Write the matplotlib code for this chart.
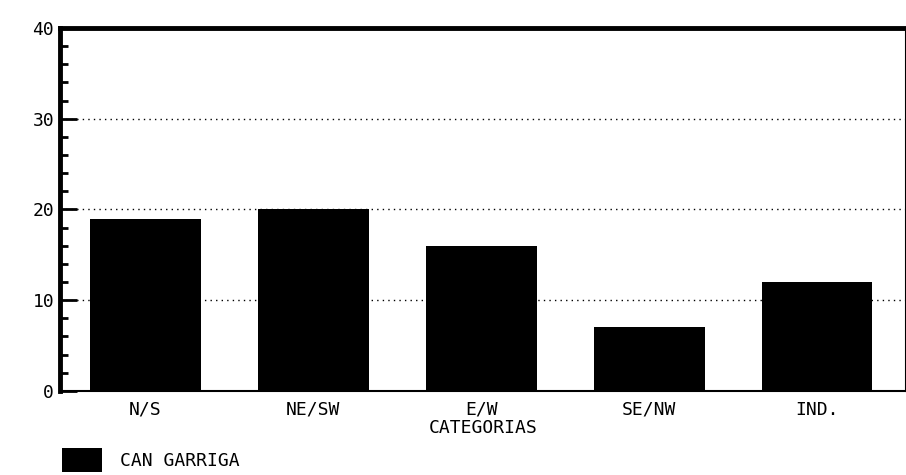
import matplotlib
matplotlib.use("Agg")
import matplotlib.pyplot as plt
from matplotlib.ticker import MultipleLocator

categorias = ["N/S", "NE/SW", "E/W", "SE/NW", "IND."]
valores = [19, 20, 16, 7, 12]
serie = "CAN GARRIGA"

plt.rcParams["font.family"] = ["DejaVu Sans Mono"]

fig = plt.figure(figsize=(9.06, 4.75), dpi=100)
ax = fig.add_axes([0.066, 0.177, 0.934, 0.764])

x = range(len(categorias))
ax.bar(x, valores, width=0.66, color="black", label=serie, zorder=3)

ax.set_xlim(-0.51, 4.53)
ax.set_ylim(0, 40)
ax.set_xticks(list(x))
ax.set_xticklabels(categorias, fontsize=13)
ax.tick_params(axis="x", length=0, pad=7)

ax.yaxis.set_major_locator(MultipleLocator(10))
ax.yaxis.set_minor_locator(MultipleLocator(2))
ax.tick_params(axis="y", which="major", direction="in", length=12, width=2, labelsize=13, pad=4)
ax.tick_params(axis="y", which="minor", direction="in", length=6, width=2)
ax.grid(axis="y", which="major", linestyle=(0, (1, 3)), color="black", linewidth=1, zorder=1)

ax.spines["left"].set_linewidth(3.5)
ax.spines["top"].set_linewidth(3.5)
ax.spines["bottom"].set_linewidth(1.5)
ax.spines["right"].set_linewidth(1.5)

ax.set_xlabel("CATEGORIAS", fontsize=13, labelpad=0)

fig.legend(loc="lower left", bbox_to_anchor=(0.051, -0.027), frameon=False, fontsize=13,
           handlelength=2.2, handleheight=1.6, handletextpad=1.0)

fig.savefig("out.png", dpi=100)
